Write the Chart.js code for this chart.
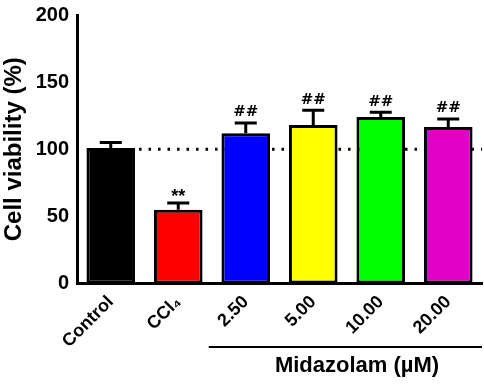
<!DOCTYPE html>
<html>
<head>
<meta charset="utf-8">
<script src="https://cdn.jsdelivr.net/npm/chart.js@4"></script>
<style>
  body { margin: 0; background: #fff; }
  #wrap { width: 484px; height: 385px; }
</style>
</head>
<body>
<div id="wrap"><canvas id="myChart"></canvas></div>
<script>
// Cell viability after CCl4 and midazolam treatment

const groups = ["Control", "CCl\u2084", "2.50", "5.00", "10.00", "20.00"];
const viability = [101, 55, 112, 118, 124, 116.5];
const sem = [4, 5, 7.5, 11, 3.5, 6];
const marks = ["", "**", "##", "##", "##", "##"];
const colors = ["#000000", "#ff0000", "#0000ff", "#ffff00", "#00ff00", "#e000c8"];
const yTicks = [0, 50, 100, 150, 200];

const font = "'Liberation Sans', Arial, sans-serif";

const extras = {
  id: "extras",
  beforeDatasetsDraw(chart) {
    // dotted control reference line
    const { ctx, scales } = chart;
    const y = scales.y.getPixelForValue(100);
    const bar0 = chart.getDatasetMeta(0).data[0];
    ctx.save();
    ctx.strokeStyle = "#000";
    ctx.lineWidth = 3;
    ctx.setLineDash([2.5, 7]);
    ctx.beginPath();
    ctx.moveTo(bar0.x + bar0.width / 2 + 4, y);
    ctx.lineTo(chart.chartArea.right, y);
    ctx.stroke();
    ctx.restore();
  },
  afterDatasetsDraw(chart) {
    const { ctx, scales } = chart;
    const meta = chart.getDatasetMeta(0);
    ctx.save();
    ctx.strokeStyle = "#000";
    ctx.fillStyle = "#000";
    ctx.lineWidth = 3;
    meta.data.forEach((bar, i) => {
      const yTop = scales.y.getPixelForValue(viability[i] + sem[i]);
      ctx.beginPath();
      ctx.moveTo(bar.x, bar.y);
      ctx.lineTo(bar.x, yTop);
      ctx.moveTo(bar.x - 11, yTop);
      ctx.lineTo(bar.x + 11, yTop);
      ctx.stroke();
      if (marks[i]) {
        ctx.font = marks[i] === "**" ? "bold 18px " + font : "bold 15px 'DejaVu Serif', serif";
        ctx.textAlign = "center";
        ctx.textBaseline = "bottom";
        ctx.fillText(marks[i], bar.x, yTop - (marks[i] === "**" ? -3 : 3));
      }
    });
    // Midazolam bracket
    const x0 = scales.x.getPixelForValue(2) - 37;
    const x1 = chart.chartArea.right;
    ctx.lineWidth = 2;
    ctx.beginPath();
    ctx.moveTo(x0, 347);
    ctx.lineTo(x1, 347);
    ctx.stroke();
    ctx.font = "bold 22px " + font;
    ctx.textAlign = "center";
    ctx.textBaseline = "middle";
    ctx.fillText("Midazolam (\u00b5M)", 357, 366);
    ctx.restore();
  }
};

const data = {
  labels: groups,
  datasets: [{
    data: viability,
    backgroundColor: colors,
    borderColor: "#000",
    borderWidth: 3,
    borderSkipped: false,
    barPercentage: 0.72,
    categoryPercentage: 1,
  }],
};

const options = {
  responsive: true,
  maintainAspectRatio: false,
  animation: false,
  layout: { padding: { top: 15, right: 2, bottom: 31, left: 0 } },
  plugins: {
    legend: { display: false },
    tooltip: { enabled: false },
  },
  scales: {
    y: {
      min: 0,
      max: 200,
      afterBuildTicks: (axis) => { axis.ticks = yTicks.map((v) => ({ value: v })); },
      afterFit: (axis) => { axis.width = 77; },
      grid: { display: false, drawTicks: true, tickLength: 6, tickColor: "#000", tickWidth: 3 },
      border: { color: "#000", width: 3 },
      ticks: { color: "#000", font: { family: font, size: 20, weight: "bold" }, padding: 2 },
      title: {
        display: true,
        text: "Cell viability (%)",
        color: "#000",
        font: { family: font, size: 24, weight: "bold" },
        padding: { top: 0, bottom: 2 },
      },
    },
    x: {
      grid: { display: false, drawTicks: true, tickLength: 6, tickColor: "#000", tickWidth: 3, offset: false },
      border: { color: "#000", width: 3 },
      ticks: {
        color: "#000",
        minRotation: 45,
        maxRotation: 45,
        font: { family: font, size: 18, weight: "bold" },
        padding: 2,
      },
    },
  },
};

new Chart(document.querySelector("#myChart"), {
  type: "bar",
  data: data,
  options: options,
  plugins: [extras],
});
</script>
</body>
</html>
